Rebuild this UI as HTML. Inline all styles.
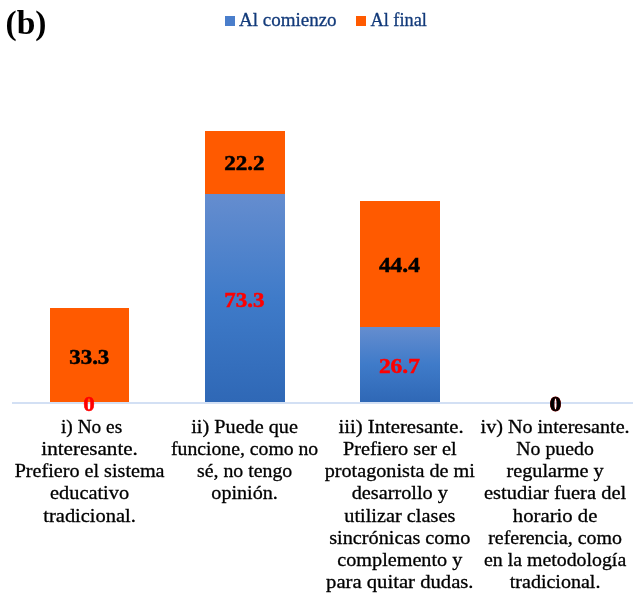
<!DOCTYPE html>
<html lang="es">
<head>
<meta charset="utf-8">
<title>Figura (b)</title>
<style>
html,body{margin:0;padding:0;background:#fff;}
body{width:638px;height:596px;overflow:hidden;position:relative;font-family:"Liberation Serif",serif;}
svg{position:absolute;left:0;top:0;display:block;}
.cat{font-family:"Liberation Serif",serif;font-size:19.3px;fill:#000;stroke:#000;stroke-width:0.3px;}
.leg{font-family:"Liberation Serif",serif;font-size:19px;fill:#123a7a;stroke:#123a7a;stroke-width:0.3px;}
.val{font-family:"Liberation Serif",serif;font-weight:bold;font-size:21px;stroke-width:0.5px;}
.vk{fill:#000;stroke:#000;}
.vr{fill:#ff0000;stroke:#ff0000;}
.ttl{font-family:"Liberation Serif",serif;font-weight:bold;font-size:33.5px;fill:#000;}
</style>
</head>
<body>
<svg xmlns="http://www.w3.org/2000/svg" width="638" height="596" viewBox="0 0 638 596">
<defs>
<linearGradient id="gb" x1="0" y1="0" x2="0" y2="1">
<stop offset="0" stop-color="#658dcf"/>
<stop offset="0.5" stop-color="#3f7bc9"/>
<stop offset="1" stop-color="#2f68b6"/>
</linearGradient>
</defs>
<rect width="638" height="596" fill="#ffffff"/>
<text class="ttl" x="5.5" y="33.5">(b)</text>
<!-- legend -->
<rect x="225" y="16" width="10" height="10" fill="#4a7ecb"/>
<text class="leg" x="239" y="25.8" textLength="97.6" lengthAdjust="spacingAndGlyphs">Al comienzo</text>
<rect x="356" y="16" width="10" height="10" fill="#ff5a00"/>
<text class="leg" x="370.5" y="25.8" textLength="56.4" lengthAdjust="spacingAndGlyphs">Al final</text>
<!-- axis -->
<rect x="12" y="402" width="621" height="2" fill="#d3e0f4"/>
<!-- bars -->
<rect x="50" y="308" width="79" height="94" fill="#ff5a00"/>
<rect x="205" y="131" width="80" height="63" fill="#ff5a00"/>
<rect x="205" y="194" width="80" height="208" fill="url(#gb)"/>
<rect x="360" y="201" width="80" height="126" fill="#ff5a00"/>
<rect x="360" y="327" width="80" height="75" fill="url(#gb)"/>
<!-- values -->
<text class="val vk" x="89.3" y="363.9" text-anchor="middle" textLength="40" lengthAdjust="spacingAndGlyphs">33.3</text>
<text class="val vr" x="89" y="410.7" text-anchor="middle" textLength="11.5" lengthAdjust="spacingAndGlyphs">0</text>
<text class="val vk" x="244.4" y="169.8" text-anchor="middle" textLength="40.5" lengthAdjust="spacingAndGlyphs">22.2</text>
<text class="val vr" x="244.4" y="307" text-anchor="middle" textLength="40.2" lengthAdjust="spacingAndGlyphs">73.3</text>
<text class="val vk" x="399.4" y="271.8" text-anchor="middle" textLength="41" lengthAdjust="spacingAndGlyphs">44.4</text>
<text class="val vr" x="399.4" y="372.5" text-anchor="middle" textLength="41" lengthAdjust="spacingAndGlyphs">26.7</text>
<text class="val vr" x="555.5" y="410.9" text-anchor="middle" textLength="11.5" lengthAdjust="spacingAndGlyphs" style="fill:#a00000;stroke:#a00000;stroke-width:0.9px">0</text>
<text class="val vk" x="555.5" y="410.9" text-anchor="middle" textLength="11.5" lengthAdjust="spacingAndGlyphs">0</text>
<!-- category labels -->
<text class="cat" x="91.6" y="432.6" text-anchor="middle" textLength="61.2" lengthAdjust="spacingAndGlyphs">i) No es</text>
<text class="cat" x="89.6" y="454.9" text-anchor="middle" textLength="96.6" lengthAdjust="spacingAndGlyphs">interesante.</text>
<text class="cat" x="89.6" y="477.1" text-anchor="middle" textLength="149.9" lengthAdjust="spacingAndGlyphs">Prefiero el sistema</text>
<text class="cat" x="89.6" y="499.4" text-anchor="middle" textLength="79.0" lengthAdjust="spacingAndGlyphs">educativo</text>
<text class="cat" x="89.6" y="521.6" text-anchor="middle" textLength="92.6" lengthAdjust="spacingAndGlyphs">tradicional.</text>
<text class="cat" x="244.6" y="432.6" text-anchor="middle" textLength="106.7" lengthAdjust="spacingAndGlyphs">ii) Puede que</text>
<text class="cat" x="244.6" y="454.9" text-anchor="middle" textLength="147.2" lengthAdjust="spacingAndGlyphs">funcione, como no</text>
<text class="cat" x="244.6" y="477.1" text-anchor="middle" textLength="95.2" lengthAdjust="spacingAndGlyphs">sé, no tengo</text>
<text class="cat" x="244.6" y="499.4" text-anchor="middle" textLength="66.5" lengthAdjust="spacingAndGlyphs">opinión.</text>
<text class="cat" x="401.1" y="432.6" text-anchor="middle" textLength="125.0" lengthAdjust="spacingAndGlyphs">iii) Interesante.</text>
<text class="cat" x="399.8" y="454.9" text-anchor="middle" textLength="113.8" lengthAdjust="spacingAndGlyphs">Prefiero ser el</text>
<text class="cat" x="399.8" y="477.1" text-anchor="middle" textLength="150.3" lengthAdjust="spacingAndGlyphs">protagonista de mi</text>
<text class="cat" x="399.8" y="499.4" text-anchor="middle" textLength="96.3" lengthAdjust="spacingAndGlyphs">desarrollo y</text>
<text class="cat" x="399.8" y="521.6" text-anchor="middle" textLength="111.0" lengthAdjust="spacingAndGlyphs">utilizar clases</text>
<text class="cat" x="399.8" y="543.9" text-anchor="middle" textLength="141.2" lengthAdjust="spacingAndGlyphs">sincrónicas como</text>
<text class="cat" x="399.8" y="566.2" text-anchor="middle" textLength="125.0" lengthAdjust="spacingAndGlyphs">complemento y</text>
<text class="cat" x="399.8" y="588.4" text-anchor="middle" textLength="147.5" lengthAdjust="spacingAndGlyphs">para quitar dudas.</text>
<text class="cat" x="555.1" y="432.6" text-anchor="middle" textLength="149.1" lengthAdjust="spacingAndGlyphs">iv) No interesante.</text>
<text class="cat" x="555.1" y="454.9" text-anchor="middle" textLength="77.6" lengthAdjust="spacingAndGlyphs">No puedo</text>
<text class="cat" x="555.1" y="477.1" text-anchor="middle" textLength="97.3" lengthAdjust="spacingAndGlyphs">regularme y</text>
<text class="cat" x="555.1" y="499.4" text-anchor="middle" textLength="142.2" lengthAdjust="spacingAndGlyphs">estudiar fuera del</text>
<text class="cat" x="555.1" y="521.6" text-anchor="middle" textLength="84.5" lengthAdjust="spacingAndGlyphs">horario de</text>
<text class="cat" x="555.1" y="543.9" text-anchor="middle" textLength="133.8" lengthAdjust="spacingAndGlyphs">referencia, como</text>
<text class="cat" x="555.1" y="566.2" text-anchor="middle" textLength="142.2" lengthAdjust="spacingAndGlyphs">en la metodología</text>
<text class="cat" x="555.1" y="588.4" text-anchor="middle" textLength="90.7" lengthAdjust="spacingAndGlyphs">tradicional.</text>
</svg>
</body>
</html>
